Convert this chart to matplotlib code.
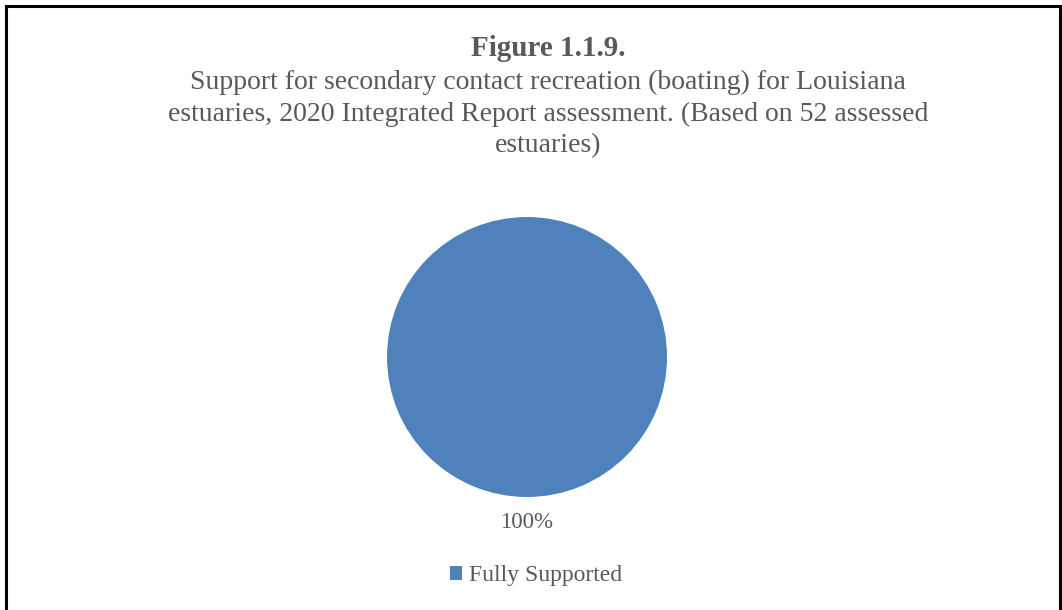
import matplotlib.pyplot as plt
from matplotlib.lines import Line2D

# data
categories = ["Fully Supported"]
values = [100]
colors = ["#4F81BD"]

title_bold = "Figure 1.1.9."
title_text = ("Support for secondary contact recreation (boating) for Louisiana\n"
              "estuaries, 2020 Integrated Report assessment. (Based on 52 assessed\n"
              "estuaries)")

plt.rcParams['font.family'] = ['Liberation Serif', 'DejaVu Serif']
txt_color = "#595959"

W, H = 1062, 610
fig = plt.figure(figsize=(W / 100, H / 100), dpi=100)

# chart frame (left, top, right)
for xs, ys in [([5.5, 5.5], [0, 604.5]), ([5.5, 1059.5], [604.5, 604.5]), ([1059.5, 1059.5], [604.5, 0])]:
    fig.add_artist(Line2D([x / W for x in xs], [y / H for y in ys], color="black", lw=2.2,
                          transform=fig.transFigure))

fig.text(548 / W, 1 - 48 / H, title_bold, ha="center", va="center", fontsize=21,
         fontweight="bold", color=txt_color)
fig.text(548 / W, 1 - 114 / H, title_text, ha="center", va="center", fontsize=20,
         color=txt_color, linespacing=1.34)

# pie: center (527, 357), radius 140 px
cx, cy, r = 527, 357, 140
ax = fig.add_axes([(cx - r) / W, 1 - (cy + r) / H, 2 * r / W, 2 * r / H])
wedges, _, autotexts = ax.pie(values, colors=colors, startangle=90, counterclock=False,
                              autopct="%1.0f%%", pctdistance=1.18,
                              textprops=dict(color=txt_color, fontsize=16.5))
ax.set_xlim(-1, 1)
ax.set_ylim(-1, 1)
ax.set_aspect("equal")

fig.legend(wedges, categories, loc="center", bbox_to_anchor=(536 / W, 1 - 576 / H),
           frameon=False, fontsize=17, handlelength=0.5, handleheight=0.5,
           handletextpad=0.3, labelcolor=txt_color)

fig.savefig("out.png", dpi=100)
